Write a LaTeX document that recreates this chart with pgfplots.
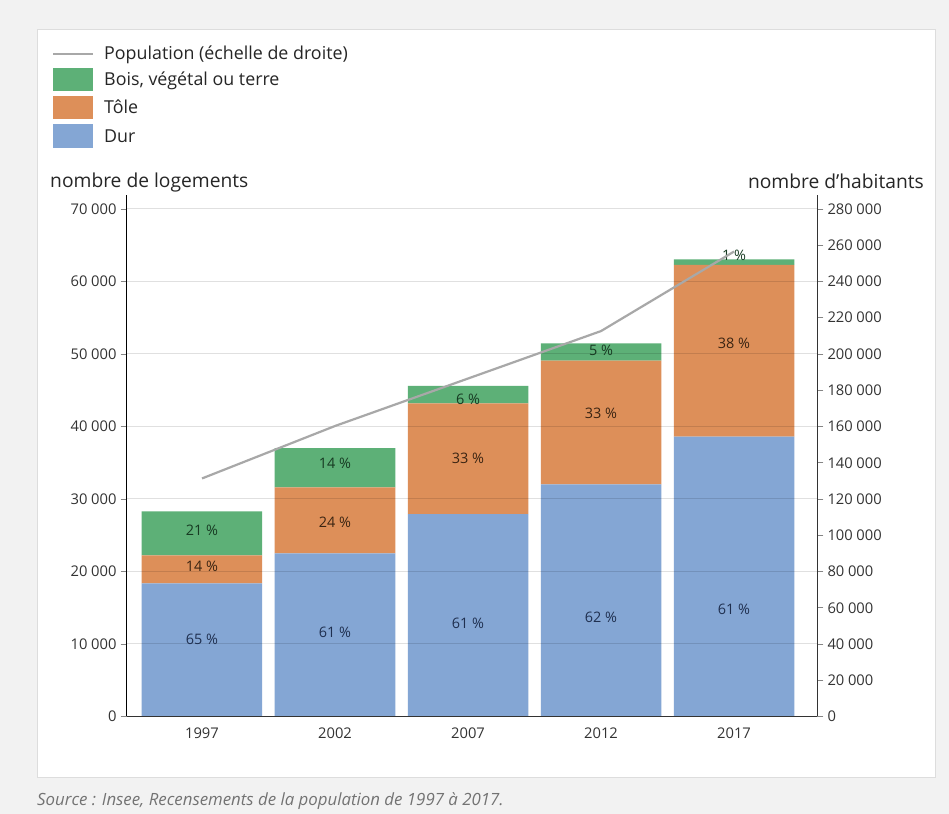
\documentclass[border=0pt]{standalone}
\usepackage{fontspec}
\setmainfont{Open Sans}
\usepackage{pgfplots}
\pgfplotsset{compat=1.18}
\definecolor{cDur}{HTML}{84A6D4}
\definecolor{cTole}{HTML}{DD8F59}
\definecolor{cBois}{HTML}{5DB077}
\definecolor{cPop}{HTML}{A8A8A8}
\definecolor{cTxt}{HTML}{333333}
\definecolor{cBg}{HTML}{F2F2F2}
\definecolor{cPanel}{HTML}{DDDDDD}
\definecolor{lDur}{HTML}{1F2F4F}
\definecolor{lTole}{HTML}{3A2412}
\definecolor{lBois}{HTML}{173A22}
\pgfplotsset{
  common/.style={
    scale only axis, width=690.6bp, height=521bp,
    xmin=-0.566, xmax=4.626,
    at={(126.7bp,97.5bp)}, anchor=south west,
    /pgf/number format/assume math mode=true,
    /pgf/number format/fixed, /pgf/number format/precision=0,
    /pgf/number format/1000 sep={\hspace{0.25em}},
    scaled y ticks=false,
    tick label style={font=\fontsize{14.8}{16}\selectfont, text=cTxt},
    tick align=outside, major tick length=6bp,
  },
  lbl/.style={draw=none, mark=none,
    nodes near coords, point meta=explicit symbolic, nodes near coords align={center},
    every node near coord/.style={font=\fontsize{14.5}{16}\selectfont, text=#1, inner sep=0pt, anchor=center}},
}
\begin{document}
\begin{tikzpicture}[x=1bp,y=1bp]
\fill[cBg] (0,0) rectangle (949,814);
\filldraw[fill=white, draw=cPanel] (37,37) rectangle (935,785);
% axis 1: bars
\begin{axis}[common,
  ymin=0, ymax=71860,
  ybar stacked, bar width=0.906,
  axis on top,
  axis x line*=bottom, axis y line*=left,
  x axis line style={draw=cTxt, line width=1.3bp},
  y axis line style={draw=black, line width=1.2bp},
  xtick={0,...,4}, xticklabels={1997,2002,2007,2012,2017},
  xtick style={draw=none},
  x tick label style={inner sep=0pt, anchor=north, yshift=-5bp},
  ytick={0,10000,...,70000},
  ytick style={draw=cTxt!60, line width=0.8bp},
  y tick label style={inner sep=0pt, anchor=east, xshift=-4bp},
  ymajorgrids, major grid style={black, opacity=0.12, line width=1bp},
]
\addplot[fill=cDur, draw=none] coordinates {(0,18370) (1,22500) (2,27900) (3,32000) (4,38600)};
\addplot[fill=cTole, draw=none] coordinates {(0,3860) (1,9100) (2,15300) (3,17100) (4,23700)};
\addplot[fill=cBois, draw=none] coordinates {(0,6070) (1,5400) (2,2400) (3,2350) (4,750)};
\end{axis}
% axis 3: percentage labels
\begin{axis}[common, ymin=0, ymax=71860, hide axis, clip=false]
\addplot[lbl=lDur] coordinates {(0,10650)[65 \%] (1,11560)[61 \%] (2,12850)[61 \%] (3,13680)[62 \%] (4,14790)[61 \%]};
\addplot[lbl=lTole] coordinates {(0,20660)[14 \%] (1,26790)[24 \%] (2,35610)[33 \%] (3,41820)[33 \%] (4,51480)[38 \%]};
\addplot[lbl=lBois] coordinates {(0,25630)[21 \%] (1,34920)[14 \%] (2,43790)[6 \%] (3,50510)[5 \%] (4,63560)[1 \%]};
\end{axis}
% axis 2: population
\begin{axis}[common,
  ymin=0, ymax=287440,
  axis y line*=right, axis x line=none,
  y axis line style={draw=cTxt, line width=1.2bp},
  ytick={0,20000,...,280000},
  ytick style={draw=cTxt!60, line width=0.8bp},
  y tick label style={inner sep=0pt, anchor=west, xshift=4bp},
]
\addplot[cPop, line width=2.2bp, mark=none] coordinates {(0,131320) (1,160265) (2,186452) (3,212645) (4,256518)};
\end{axis}
% titles
\node[anchor=base west, inner sep=0pt, text=black!85, font=\fontsize{19.3}{22}\selectfont] at (50,626.7) {nombre de logements};
\node[anchor=base east, inner sep=0pt, text=black!85, font=\fontsize{19.3}{22}\selectfont] at (924,625.7) {nombre d{\char"0027}habitants};
% legend
\draw[cPop, line width=2.2bp] (53,760) -- (93,760);
\fill[cBois] (53,723) rectangle (93,746.3);
\fill[cTole] (53,694.7) rectangle (93,718);
\fill[cDur] (53,666) rectangle (93,689.7);
\begin{scope}[every node/.style={anchor=base west, inner sep=0pt, text=black!85, font=\fontsize{17.9}{20}\selectfont}]
\node at (104,754) {Population (échelle de droite)};
\node at (104,728.7) {Bois, végétal ou terre};
\node at (104,700.3) {Tôle};
\node at (104,671.8) {Dur};
\end{scope}
% source
\node[anchor=base west, inner sep=0pt, text=black!55, font=\fontsize{16.9}{19}\selectfont\itshape] at (37,8.3) {Source : Insee, Recensements de la population de 1997 à 2017.};
\end{tikzpicture}
\end{document}
